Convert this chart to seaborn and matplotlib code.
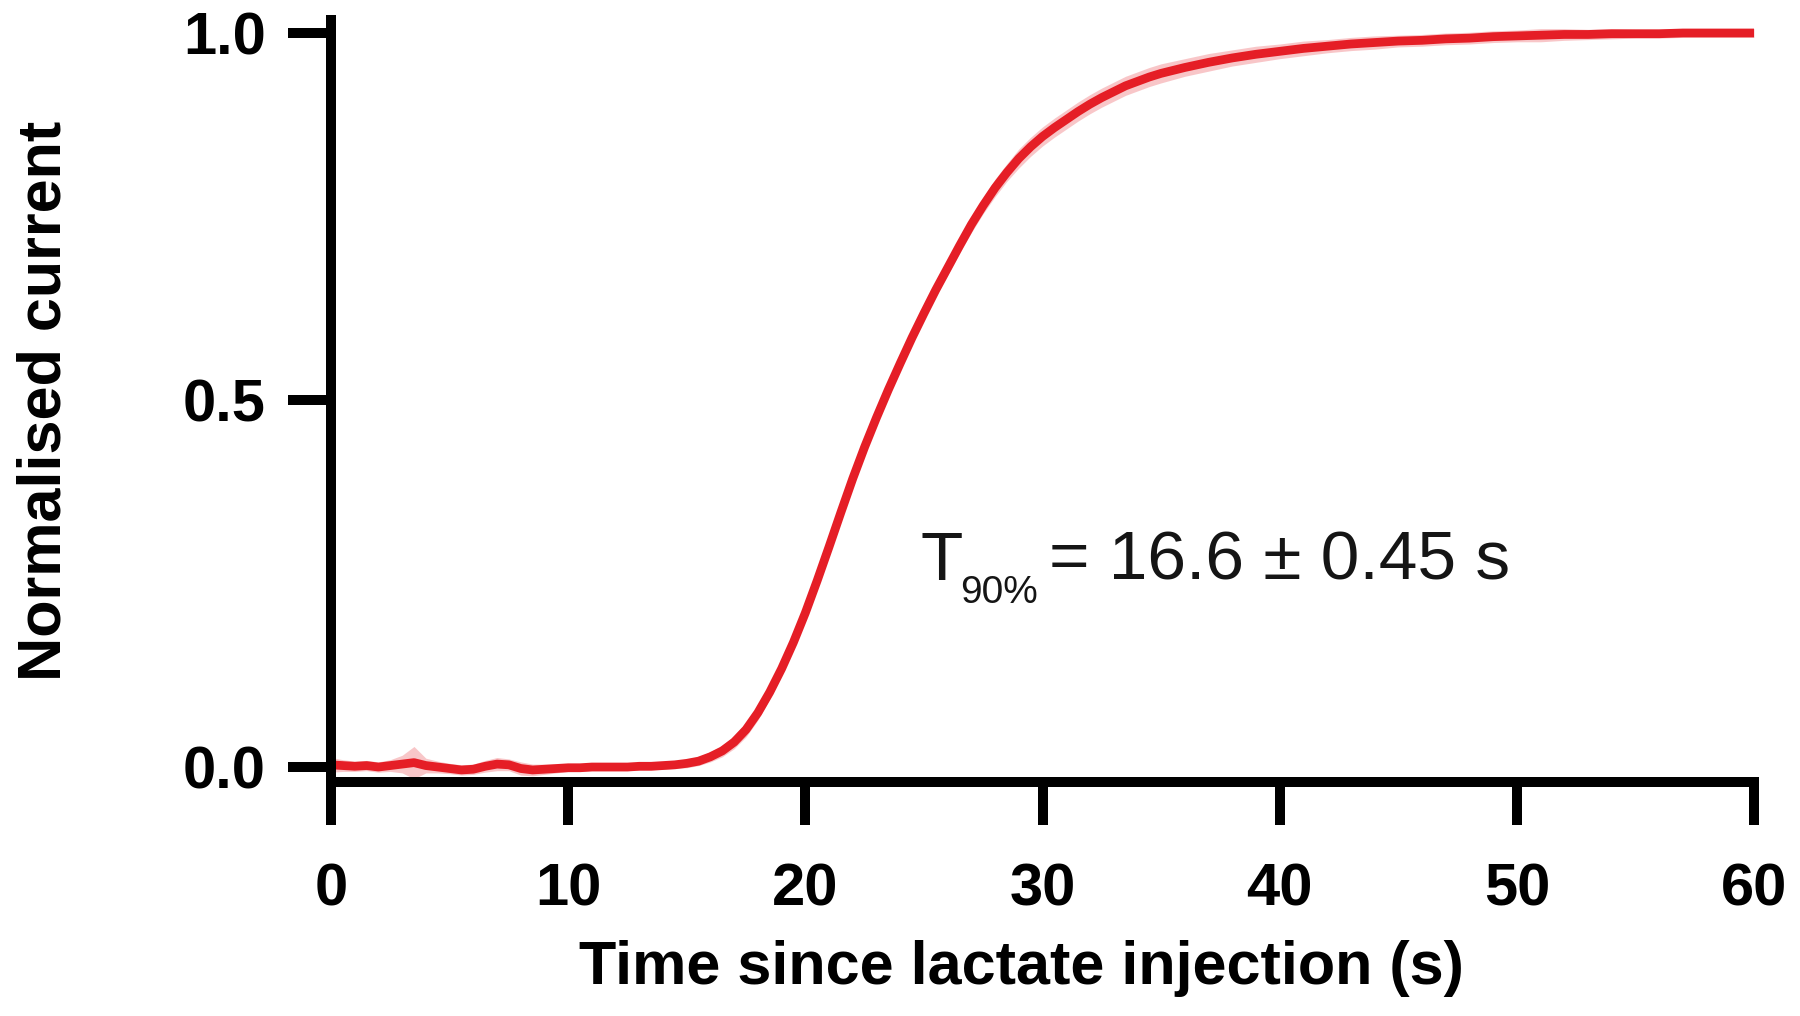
import numpy as np
import pandas as pd
import matplotlib
matplotlib.use("Agg")
import matplotlib.pyplot as plt
from matplotlib.transforms import offset_copy
import seaborn as sns

# ---- data ----
time_s = [0.0, 0.5, 1.0, 1.5, 2.0, 2.5, 3.0, 3.5, 4.0, 4.5,
          5.0, 5.5, 6.0, 6.5, 7.0, 7.5, 8.0, 8.5, 9.0, 9.5,
          10.0, 10.5, 11.0, 11.5, 12.0, 12.5, 13.0, 13.5, 14.0, 14.5,
          15.0, 15.5, 16.0, 16.5, 17.0, 17.5, 18.0, 18.5, 19.0, 19.5,
          20.0, 20.5, 21.0, 21.5, 22.0, 22.5, 23.0, 23.5, 24.0, 24.5,
          25.0, 25.5, 26.0, 26.5, 27.0, 27.5, 28.0, 28.5, 29.0, 29.5,
          30.0, 30.5, 31.0, 31.5, 32.0, 32.5, 33.0, 33.5, 34.0, 34.5,
          35.0, 36.0, 37.0, 38.0, 39.0, 40.0, 41.0, 42.0, 43.0, 44.0,
          45.0, 46.0, 47.0, 48.0, 49.0, 50.0, 51.0, 52.0, 53.0, 54.0,
          55.0, 56.0, 57.0, 58.0, 59.0, 60.0]

mean_current = [0.003, 0.002, 0.001, 0.002, 0.000, 0.002, 0.004, 0.006, 0.002, 0.000,
                -0.002, -0.004, -0.003, 0.001, 0.004, 0.003, -0.002, -0.004, -0.003, -0.002,
                -0.001, -0.001, 0.000, 0.000, 0.000, 0.000, 0.001, 0.001, 0.002, 0.003,
                0.005, 0.008, 0.014, 0.022, 0.034, 0.051, 0.074, 0.102, 0.134, 0.170,
                0.210, 0.254, 0.300, 0.347, 0.393, 0.436, 0.476, 0.514, 0.550, 0.585,
                0.618, 0.650, 0.680, 0.710, 0.739, 0.765, 0.789, 0.810, 0.829, 0.845,
                0.859, 0.871, 0.882, 0.893, 0.903, 0.912, 0.920, 0.928, 0.934, 0.940,
                0.945, 0.953, 0.960, 0.966, 0.971, 0.975, 0.979, 0.982, 0.985, 0.987,
                0.989, 0.990, 0.992, 0.993, 0.995, 0.996, 0.997, 0.998, 0.998, 0.999,
                0.999, 0.999, 1.000, 1.000, 1.000, 1.000]

sem_current = [0.010, 0.008, 0.007, 0.007, 0.007, 0.008, 0.012, 0.022, 0.010, 0.008,
               0.007, 0.007, 0.007, 0.008, 0.009, 0.008, 0.009, 0.008, 0.007, 0.006,
               0.005, 0.005, 0.005, 0.005, 0.005, 0.005, 0.005, 0.005, 0.005, 0.005,
               0.006, 0.006, 0.007, 0.008, 0.009, 0.010, 0.010, 0.009, 0.008, 0.008,
               0.007, 0.007, 0.007, 0.007, 0.007, 0.007, 0.007, 0.007, 0.008, 0.008,
               0.009, 0.009, 0.010, 0.010, 0.011, 0.011, 0.012, 0.012, 0.013, 0.013,
               0.013, 0.013, 0.013, 0.013, 0.013, 0.013, 0.013, 0.013, 0.013, 0.013,
               0.013, 0.012, 0.012, 0.011, 0.011, 0.010, 0.010, 0.009, 0.009, 0.009,
               0.008, 0.008, 0.008, 0.008, 0.008, 0.008, 0.009, 0.008, 0.007, 0.007,
               0.006, 0.006, 0.006, 0.006, 0.006, 0.006]

x_ticks = [0, 10, 20, 30, 40, 50, 60]
y_ticks = [0.0, 0.5, 1.0]
y_tick_labels = ["0.0", "0.5", "1.0"]
x_label = "Time since lactate injection (s)"
y_label = "Normalised current"
annot_main = "T"
annot_sub = "90%"
annot_rest = "= 16.6 ± 0.45 s"

df = pd.DataFrame({"time": time_s, "current": mean_current, "sem": sem_current})

# ---- style ----
sns.set_theme(style="white")
plt.rcParams["font.family"] = ["Liberation Sans", "DejaVu Sans"]

RED = "#E51E26"
fig = plt.figure(figsize=(18, 10.16), dpi=100)
ax = fig.add_axes([331 / 1800, 1 - 782 / 1016, (1754 - 331) / 1800, (782 - 20) / 1016])

ax.fill_between(df["time"], df["current"] - df["sem"], df["current"] + df["sem"],
                color=RED, alpha=0.25, linewidth=0)
sns.lineplot(data=df, x="time", y="current", ax=ax, color=RED, linewidth=6.3,
             estimator=None, sort=False)

ax.set_xlim(0, 60)
ax.set_ylim(-0.0204, 1.0177)
ax.set_xticks(x_ticks)
ax.set_xticklabels([str(v) for v in x_ticks])
ax.set_yticks(y_ticks)
ax.set_yticklabels(y_tick_labels)

for side in ["top", "right"]:
    ax.spines[side].set_visible(False)
for side in ["left", "bottom"]:
    ax.spines[side].set_linewidth(7.2)
    ax.spines[side].set_color("black")

ax.tick_params(axis="both", which="major", direction="out", length=31, width=7.2,
               color="black", labelsize=43, labelcolor="black")
ax.tick_params(axis="x", pad=27, bottom=True)
ax.tick_params(axis="y", pad=16, left=True)
for lab in ax.get_xticklabels() + ax.get_yticklabels():
    lab.set_fontweight("bold")

ax.set_xlabel(x_label, fontsize=44, fontweight="bold", color="black")
ax.set_ylabel(y_label, fontsize=44, fontweight="bold", color="black")
ax.xaxis.set_label_coords(0.485, -0.207)
ax.yaxis.set_label_coords(-0.181, 0.5)

# annotation: T with subscript 90%, then the value
ax_x, ax_y = 24.86, 0.2548
txt_color = "#151515"
ax.text(ax_x, ax_y, annot_main, fontsize=50, color=txt_color, ha="left", va="baseline")
ax.text(ax_x, ax_y, annot_sub, fontsize=28, color=txt_color, ha="left", va="baseline",
        transform=offset_copy(ax.transData, fig=fig, x=40, y=-23, units="dots"))
ax.text(ax_x, ax_y, annot_rest, fontsize=50, color=txt_color, ha="left", va="baseline",
        transform=offset_copy(ax.transData, fig=fig, x=128, y=0, units="dots"))

ax.grid(False)
ax.set_facecolor("white")
fig.savefig("out.png", dpi=100, facecolor="white")
